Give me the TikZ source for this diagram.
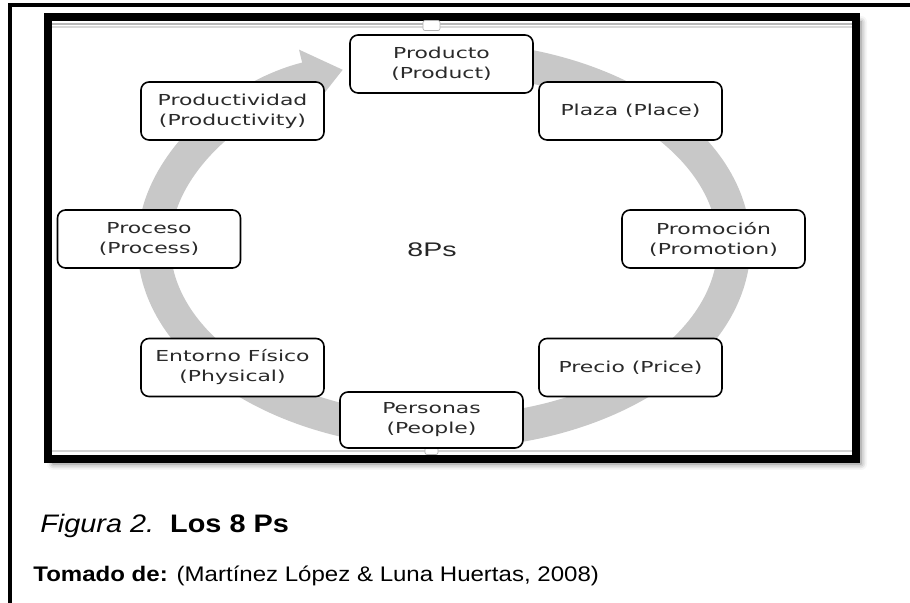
\documentclass[tikz,border=0pt]{standalone}
\usepackage{fontspec}
\setmainfont{Liberation Sans}
\newfontfamily\boxfont[FakeStretch=1.45]{DejaVu Sans}
\newfontfamily\midfont[FakeStretch=1.45]{Liberation Sans}
\newfontfamily\capfont[FakeStretch=1.14]{Liberation Sans}
\usetikzlibrary{arrows.meta, shadows.blur}

\definecolor{ringgray}{RGB}{200,200,200}
\definecolor{txtgray}{RGB}{42,42,42}

\begin{document}
\begin{tikzpicture}[
  pbox/.style ={draw, fill=white, rounded corners=0.16cm, line width=0.9pt,
                minimum width=3.66cm, minimum height=1.16cm, align=center,
                inner sep=0pt, text=txtgray,
                font=\boxfont\fontsize{8.6}{11.4}\selectfont},
  handle/.style={draw=gray!60, fill=white, rounded corners=0.04cm,
                 line width=0.4pt, inner sep=0pt},
  % cycle ring and page lines ---------------------------------------
  ring/.style ={draw=ringgray, line width=0.66cm,
                -{Triangle[length=0.76cm, width=1.14cm]}},
  rule/.style ={line width=0.6pt},
]
\useasboundingbox (0,0) rectangle (18.2,12.06);

% =========================== PAGE LINES =============================
\draw[line width=0.08cm] (18.2,11.96) -- (0.2,11.96) -- (0.2,0);

% =========================== FRAME ==================================
\draw[line width=0.16cm, fill=white,
      blur shadow={shadow xshift=0.1cm, shadow yshift=-0.1cm,
                   shadow blur radius=0.12cm, shadow opacity=55}]
  (0.96,2.88) rectangle (17.12,11.72);
\draw[rule, gray!55] (1.04,11.58) -- (17.04,11.58);
\draw[rule, gray!30] (1.04,11.52) -- (17.04,11.52);
\draw[rule, gray!35] (1.04,3.04) -- (17.04,3.04);
\node[handle, minimum width=0.34cm, minimum height=0.2cm] (htop) at (8.63,11.55) {};
\node[handle, minimum width=0.26cm, minimum height=0.14cm] (hbot) at (8.63,3.04) {};

% =========================== CYCLE ==================================
\draw[ring] (8.88,7.16) ++(80:5.8 and 3.74)
  arc[start angle=80, end angle=-249.6, x radius=5.8, y radius=3.74];

% =========================== NODES ==================================
\node[pbox] (prod)  at (8.83,10.78) {Producto\\(Product)};
\node[pbox] (plaza) at (12.61,9.84) {Plaza (Place)};
\node[pbox] (promo) at (14.27,7.28) {Promoción\\(Promotion)};
\node[pbox] (prec)  at (12.61,4.71) {Precio (Price)};
\node[pbox, minimum height=1.12cm] (pers) at (8.63,3.66) {Personas\\(People)};
\node[pbox] (ent)   at (4.65,4.71)  {Entorno Físico\\(Physical)};
\node[pbox] (proc)  at (2.98,7.28)  {Proceso\\(Process)};
\node[pbox] (pdv)   at (4.65,9.84)  {Productividad\\(Productivity)};

\node[font=\midfont\fontsize{11.2}{13}\selectfont, text=black!85] (eight) at (8.64,7.06) {8Ps};

% =========================== CAPTION ================================
\node[anchor=base west, inner sep=0pt, font=\capfont\fontsize{14.4}{17}\selectfont]
  (cap) at (0.8,1.40) {\itshape Figura 2.\upshape\ \ \textbf{Los 8 Ps}};
\node[anchor=base west, inner sep=0pt, font=\capfont\fontsize{12}{14}\selectfont]
  (src) at (0.66,0.42) {\textbf{Tomado de:} (Martínez López \& Luna Huertas, 2008)};

\end{tikzpicture}
\end{document}
